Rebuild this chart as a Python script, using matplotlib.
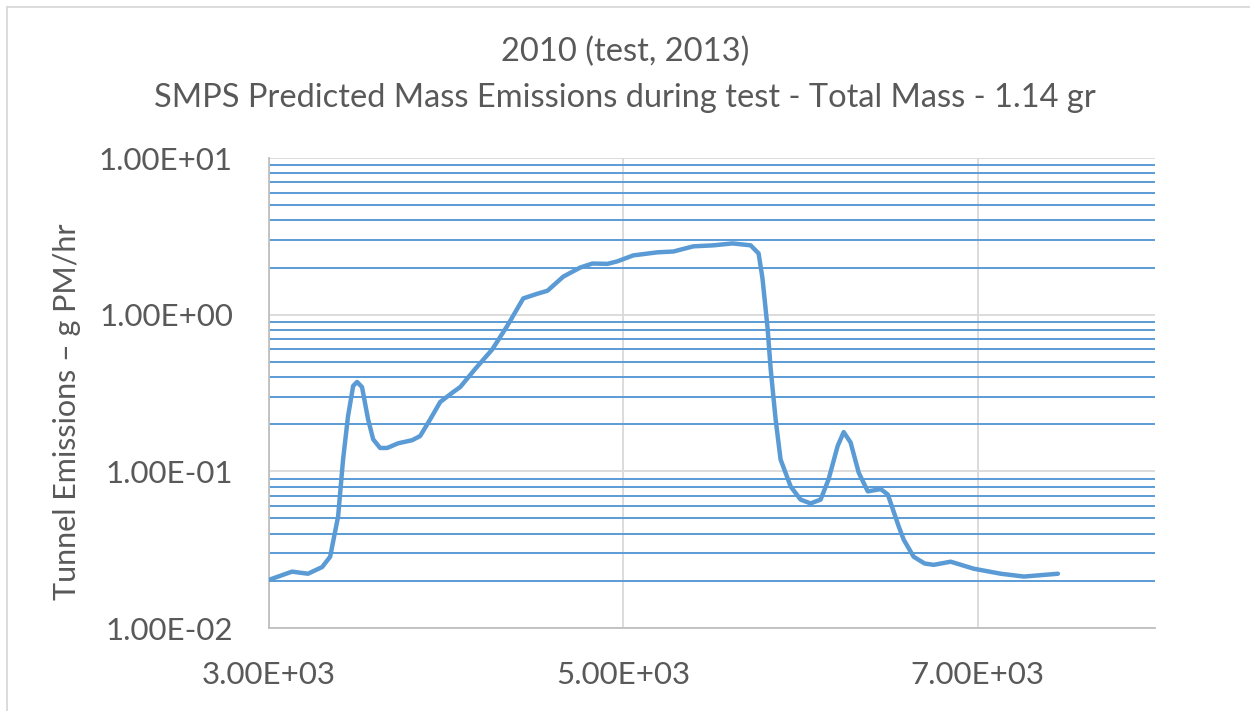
import numpy as np
import matplotlib
matplotlib.use("Agg")
import matplotlib.pyplot as plt
from matplotlib.ticker import FixedLocator, LogLocator, FuncFormatter, NullFormatter
from matplotlib.lines import Line2D

plt.rcParams['font.family'] = ['Lato', 'DejaVu Sans']

# time (s) and predicted mass emission rate (g PM/hr)
time_s = [3000, 3130, 3220, 3300, 3345, 3390, 3418, 3446, 3475, 3497, 3525,
          3559, 3588, 3627, 3667, 3729, 3808, 3853, 3910, 3966, 4040, 4079,
          4164, 4260, 4345, 4435, 4514, 4571, 4661, 4757, 4825, 4910, 4966,
          5056, 5192, 5282, 5395, 5508, 5616, 5718, 5763, 5785, 5814, 5831,
          5859, 5887, 5944, 6000, 6056, 6113, 6158, 6209, 6243, 6282, 6328,
          6379, 6452, 6492, 6554, 6582, 6638, 6700, 6751, 6847, 6977, 7130,
          7260, 7452]
mass_rate = [0.0203, 0.0229, 0.0222, 0.0245, 0.0285, 0.0515, 0.119, 0.225,
             0.351, 0.372, 0.345, 0.215, 0.160, 0.141, 0.141, 0.151, 0.158,
             0.168, 0.215, 0.277, 0.321, 0.345, 0.451, 0.60, 0.85, 1.27, 1.36,
             1.42, 1.75, 2.0, 2.12, 2.11, 2.19, 2.39, 2.5, 2.53, 2.73, 2.77,
             2.85, 2.77, 2.46, 1.70, 0.813, 0.451, 0.215, 0.119, 0.080, 0.066,
             0.0624, 0.066, 0.089, 0.145, 0.178, 0.153, 0.098, 0.0745, 0.077,
             0.0712, 0.0444, 0.0366, 0.0285, 0.0258, 0.0253, 0.0265, 0.0239,
             0.0222, 0.0213, 0.0222]

x_ticks = [3000, 5000, 7000]

title_1 = "2010 (test, 2013)"
title_2 = "SMPS Predicted Mass Emissions during test - Total Mass - 1.14 gr"
y_label = "Tunnel Emissions \u2013 g PM/hr"

text_col = "#595959"
line_col = "#5B9BD5"

fig = plt.figure(figsize=(12.5, 7.11), dpi=100)
ax = fig.add_axes([269 / 1250, 1 - 628 / 711, (1155 - 269) / 1250, (628 - 158) / 711])

ax.set_yscale("log")
ax.set_ylim(0.01, 10)
ax.set_xlim(3000, 8000)

ax.xaxis.set_major_locator(FixedLocator(x_ticks))
ax.yaxis.set_major_locator(LogLocator(base=10, numticks=10))
ax.yaxis.set_minor_locator(LogLocator(base=10, subs=np.arange(2, 10), numticks=20))
ax.yaxis.set_minor_formatter(NullFormatter())
fmt = FuncFormatter(lambda v, p: f"{v:.2E}")
ax.xaxis.set_major_formatter(fmt)
ax.yaxis.set_major_formatter(fmt)

ax.grid(True, which="major", axis="both", color="#D9D9D9", linewidth=1.3)
ax.grid(True, which="minor", axis="y", color=line_col, linewidth=1.4)
ax.set_axisbelow(True)

ax.plot(time_s, mass_rate, color=line_col, linewidth=3.2,
        solid_joinstyle="round", solid_capstyle="round", zorder=3)

for s in ("top", "right"):
    ax.spines[s].set_visible(False)
for s in ("left", "bottom"):
    ax.spines[s].set_color("#BFBFBF")
    ax.spines[s].set_linewidth(1.3)

ax.tick_params(axis="both", which="both", length=0, labelsize=22.5, labelcolor=text_col)
ax.tick_params(axis="y", pad=26)
ax.tick_params(axis="x", pad=24)

fig.text(0.5, 1 - 52 / 711, title_1, ha="center", va="center", fontsize=23.5, color=text_col)
fig.text(0.5, 1 - 98 / 711, title_2, ha="center", va="center", fontsize=23.5, color=text_col)
fig.text(67 / 1250, 1 - 412 / 711, y_label, ha="center", va="center",
         rotation=90, fontsize=22, color=text_col)

# chart border (only top and left edges are in view)
fig.add_artist(Line2D([7 / 1250, 1], [1 - 7 / 711, 1 - 7 / 711], color="#D9D9D9", linewidth=1.3))
fig.add_artist(Line2D([7 / 1250, 7 / 1250], [0, 1 - 7 / 711], color="#D9D9D9", linewidth=1.3))

fig.savefig("out.png", dpi=100)
